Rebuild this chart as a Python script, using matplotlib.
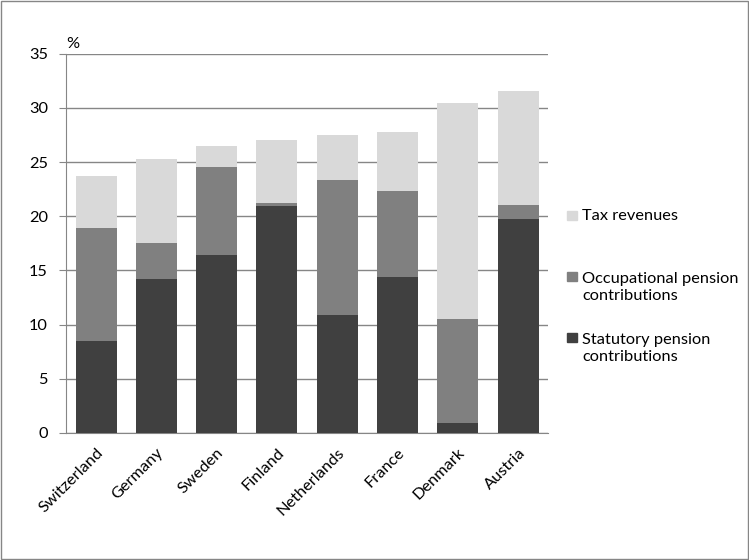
import matplotlib.pyplot as plt
import matplotlib.patches as mpatches
import numpy as np

plt.rcParams['font.family'] = ['Lato', 'DejaVu Sans']

# data (%)
countries = ['Switzerland', 'Germany', 'Sweden', 'Finland', 'Netherlands', 'France', 'Denmark', 'Austria']
statutory = [8.5, 14.2, 16.4, 20.9, 10.9, 14.4, 0.95, 19.7]
occ_top = [18.95, 17.5, 24.55, 21.2, 23.3, 22.3, 10.55, 21.05]
total = [23.7, 25.3, 26.5, 27.0, 27.5, 27.8, 30.5, 31.55]

occupational = [o - s for o, s in zip(occ_top, statutory)]
tax = [t - o for t, o in zip(total, occ_top)]

c_stat = '#404040'
c_occ = '#808080'
c_tax = '#d9d9d9'
fs = 11.8

fig = plt.figure(figsize=(7.49, 5.6), dpi=100)
ax = fig.add_axes([0.088, 0.227, 0.644, 0.677])

x = np.arange(len(countries))
w = 0.68
ax.bar(x, statutory, w, color=c_stat, zorder=3)
ax.bar(x, occupational, w, bottom=statutory, color=c_occ, zorder=3)
ax.bar(x, tax, w, bottom=occ_top, color=c_tax, zorder=3)

ax.set_xlim(-0.5, len(countries) - 0.5)
ax.set_ylim(0, 35)
ax.set_yticks(range(0, 36, 5))
ax.yaxis.grid(True, color='#868686', linewidth=1, zorder=0)
ax.set_xticks(x)
ax.set_xticklabels(countries, rotation=45, ha='right', rotation_mode='anchor', fontsize=fs)
ax.tick_params(axis='x', length=0, pad=9)
ax.tick_params(axis='y', length=5, color='#868686', labelsize=fs, pad=8)
for s in ['top', 'right']:
    ax.spines[s].set_visible(False)
ax.spines['left'].set_color('#868686')
ax.spines['bottom'].set_color('#868686')
ax.text(0.0, 1.027, '%', transform=ax.transAxes, fontsize=fs, ha='left', va='center')

# legend, drawn by hand to follow the spreadsheet layout
leg_colors = [c_tax, c_occ, c_stat]
leg_labels = ['Tax revenues', 'Occupational pension\ncontributions', 'Statutory pension\ncontributions']
leg_y = [0.6148, 0.5059, 0.3970]  # first text line of each entry
line_h = 0.0386
for col, lab, yy in zip(leg_colors, leg_labels, leg_y):
    n = lab.count('\n') + 1
    fig.patches.append(mpatches.Rectangle((0.757, yy - 0.008), 0.013, 0.017,
                                          transform=fig.transFigure, color=col))
    fig.text(0.777, yy - line_h * (n - 1) / 2, lab, fontsize=fs, ha='left', va='center',
             linespacing=1.3)

# outer border
fig.patches.append(mpatches.Rectangle((0.002, 0.002), 0.996, 0.996, transform=fig.transFigure,
                                      fill=False, edgecolor='#868686', linewidth=1))

fig.savefig('out.png', dpi=100)
